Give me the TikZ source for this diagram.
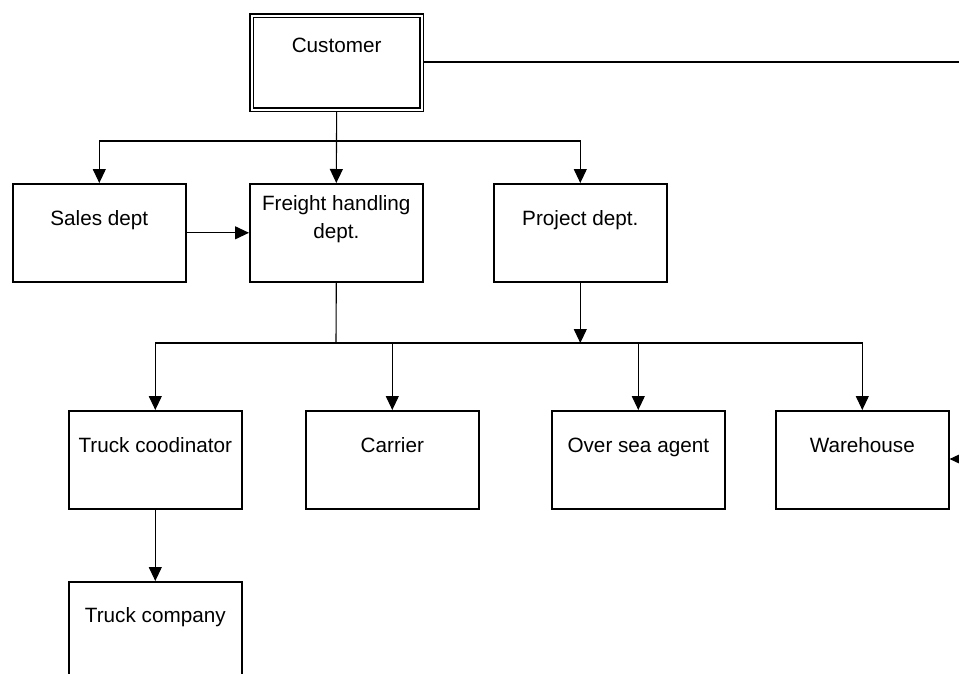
\documentclass[tikz,border=0pt]{standalone}
\usepackage{fontspec}
\setmainfont{Liberation Sans}
\usetikzlibrary{arrows.meta}
\begin{document}
\begin{tikzpicture}[x=1pt,y=-1pt,
  box/.style={draw, line width=1.6pt, minimum width=173pt, minimum height=98pt, inner sep=0pt, anchor=north west},
  lbl/.style={font=\fontsize{20.7}{28}\selectfont, align=center, inner sep=0pt, text height=15pt, text depth=4pt},
  conn/.style={line width=1.1pt},
  arr/.style={conn,-{Triangle[length=14pt,width=13pt]}}]
\useasboundingbox (0,0) rectangle (959,673);
\clip (0,0) rectangle (959,673);
% boxes
\node[draw, double, line width=1.3pt, double distance=2.2pt, minimum width=170pt, minimum height=94pt, inner sep=0pt, anchor=north west] (customer) at (251,15) {};
\node[box] (sales) at (12,183) {};
\node[box] (freight) at (249,183) {};
\node[box] (project) at (493,183) {};
\node[box] (truck) at (68,410) {};
\node[box] (carrier) at (305,410) {};
\node[box] (agent) at (551,410) {};
\node[box] (ware) at (775,410) {};
\node[box, minimum height=110pt] (truckco) at (68,581) {};
% labels
\node[lbl] (tcustomer) at ([yshift=-32pt]customer.north) {Customer};
\node[lbl] (tsales) at ([yshift=-37pt]sales.north) {Sales dept};
\node[lbl, text height=, text depth=] (tfreight) at ([yshift=-36pt]freight.north) {Freight handling\\dept.};
\node[lbl] (tproject) at ([yshift=-37pt]project.north) {Project dept.};
\node[lbl] (ttruck) at ([yshift=-37pt]truck.north) {Truck coodinator};
\node[lbl] (tcarrier) at ([yshift=-37pt]carrier.north) {Carrier};
\node[lbl] (tagent) at ([yshift=-37pt]agent.north) {Over sea agent};
\node[lbl] (tware) at ([yshift=-37pt]ware.north) {Warehouse};
\node[lbl] (ttruckco) at ([yshift=-36pt]truckco.north) {Truck company};
% connectors
\coordinate (e1) at (959,62);
\coordinate (e2) at (980,459);
\coordinate (j1) at (336,141);
\coordinate (j2) at (336,343);
\draw[conn] ([xshift=1.5pt]customer.east |- e1) -- (e1);
\draw[arr] (e2) -- (ware.east |- e2);
\draw[arr] ([yshift=-1.5pt]customer.south) -- (freight.north);
\draw[arr] (j1) -| (sales.north);
\draw[arr] (j1) -| (project.north);
\draw[arr] (sales.east) -- (freight.west);
\draw[conn] (freight.south) -- (j2);
\draw[arr] (j2) -| (truck.north);
\draw[arr] (j2) -| (carrier.north);
\draw[arr] (j2) -| (agent.north);
\draw[arr] (j2) -| (ware.north);
\draw[arr] (project.south) -- (project.south |- j2);
\draw[arr] (truck.south) -- (truckco.north);
\end{tikzpicture}
\end{document}
